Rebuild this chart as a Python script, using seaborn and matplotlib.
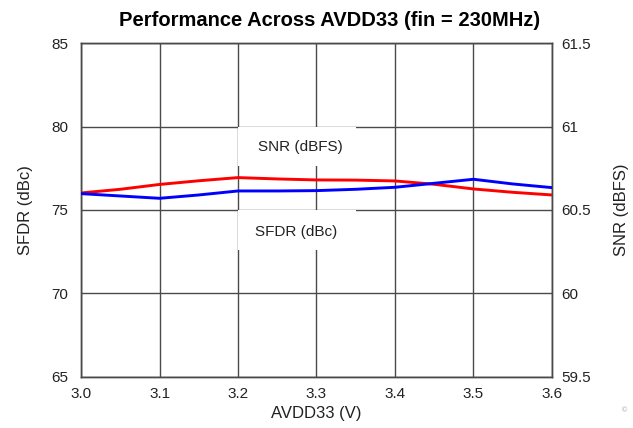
import numpy as np
import pandas as pd
import matplotlib
matplotlib.use("Agg")
import matplotlib.pyplot as plt
from matplotlib.patches import Rectangle
import seaborn as sns

# values
avdd = [3.0, 3.05, 3.1, 3.15, 3.2, 3.25, 3.3, 3.35, 3.4, 3.45, 3.5, 3.55, 3.6]
sfdr = [76.02, 76.24, 76.53, 76.75, 76.94, 76.86, 76.80, 76.79, 76.74, 76.54, 76.26, 76.06, 75.90]
snr = [60.598, 60.584, 60.570, 60.590, 60.614, 60.614, 60.616, 60.624, 60.636, 60.660, 60.684, 60.656, 60.634]

x_ticks = [3.0, 3.1, 3.2, 3.3, 3.4, 3.5, 3.6]
left_ticks = [65, 70, 75, 80, 85]
right_ticks = [59.5, 60.0, 60.5, 61.0, 61.5]
right_labels = ["59.5", "60", "60.5", "61", "61.5"]

df = pd.DataFrame({"avdd": avdd, "sfdr": sfdr, "snr": snr})

sns.set_style("white")
plt.rcParams["font.family"] = ["Liberation Sans", "DejaVu Sans"]

fig = plt.figure(figsize=(6.33, 4.28), dpi=100)
ax = fig.add_axes([0.128, 0.1192, 0.744, 0.7803])
ax2 = ax.twinx()

grid_c = "#4a4a4a"
ax.set_xlim(3.0, 3.6)
ax.set_ylim(65, 85)
ax2.set_ylim(59.5, 61.5)
ax.set_xticks(x_ticks)
ax.set_xticklabels([f"{t:.1f}" for t in x_ticks])
ax.set_yticks(left_ticks)
ax2.set_yticks(right_ticks)
ax2.set_yticklabels(right_labels)
ax.grid(True, color=grid_c, linewidth=1.0)
ax.set_axisbelow(True)

# white boxes behind the in-plot labels
for y0, h in [(77.66, 2.34), (72.6, 2.4)]:
    ax.add_patch(Rectangle((3.2, y0), 0.15, h, facecolor="white", edgecolor="none", zorder=1.8))

sns.lineplot(data=df, x="avdd", y="sfdr", ax=ax, color="#ff0000", linewidth=2.1, zorder=3)
sns.lineplot(data=df, x="avdd", y="snr", ax=ax2, color="#0000ff", linewidth=2.1, zorder=3)

ax.text(3.28, 78.75, "SNR (dBFS)", ha="center", va="center", fontsize=11, color="#222222", zorder=4)
ax.text(3.274, 73.7, "SFDR (dBc)", ha="center", va="center", fontsize=11, color="#222222", zorder=4)

for a in (ax, ax2):
    for s in a.spines.values():
        s.set_color(grid_c)
        s.set_linewidth(1.0)
    a.tick_params(length=0, labelsize=11, colors="#222222")
ax.tick_params(axis="y", pad=9)
ax.tick_params(axis="x", pad=7)
ax2.tick_params(axis="y", pad=7)

ax.set_xlabel("AVDD33 (V)", fontsize=12, color="#222222", labelpad=4)
ax.set_ylabel("SFDR (dBc)", fontsize=12, color="#222222", labelpad=13)
ax2.set_ylabel("SNR (dBFS)", fontsize=12, color="#222222", labelpad=16)

fig.text(0.521, 0.953, "Performance Across AVDD33 (fin = 230MHz)", ha="center", va="center",
         fontsize=14.5, fontweight="bold", color="black")
fig.text(0.987, 0.04, "\u00a9", ha="center", va="center", fontsize=5, color="#aaaaaa")

fig.savefig("out.png", dpi=100)
